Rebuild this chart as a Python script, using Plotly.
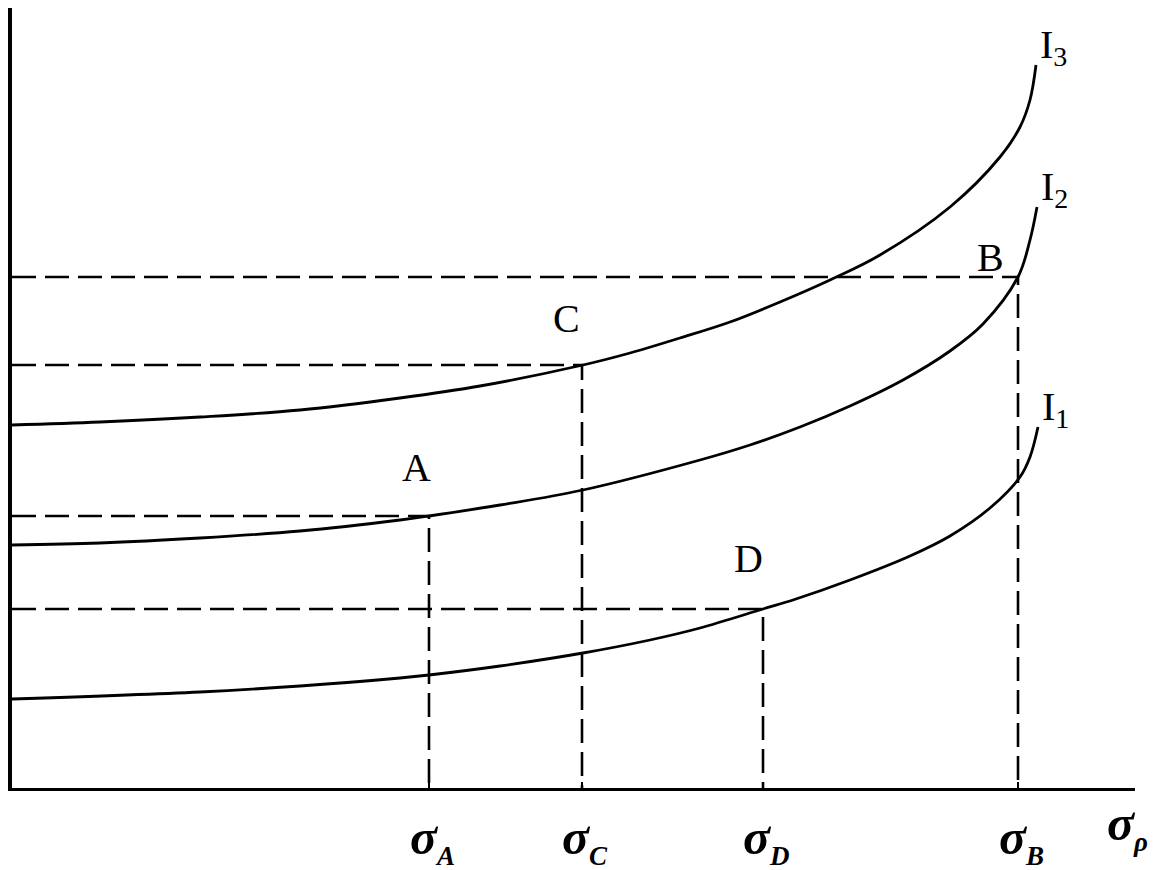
import plotly.graph_objects as go

# ---- data (x = sigma_p, y = expected return, arbitrary units) ----
i3_x = [0, 88, 188, 288, 388, 468, 571, 618, 668, 718, 768, 818, 868, 938, 988, 1008, 1018, 1024]
i3_y = [363, 366, 371, 378, 390, 402, 423, 435, 450, 466, 486, 508, 533, 581, 631, 661, 688, 723]

i2_x = [0, 88, 188, 288, 388, 417, 488, 571, 688, 738, 788, 838, 891, 938, 971, 1006, 1018, 1025]
i2_y = [243, 245, 250, 257, 268, 272, 283, 298, 328, 343, 361, 382, 408, 437, 464, 511, 548, 581]

i1_x = [0, 188, 288, 388, 417, 488, 571, 638, 688, 751, 781, 838, 898, 938, 978, 1008, 1018, 1026]
i1_y = [89, 96, 102, 110, 113, 122, 135, 148, 160, 179, 188, 208, 232, 252, 280, 311, 331, 361]

point_names = ["A", "B", "C", "D"]
point_x = [417, 1006, 570, 751]
point_y = [272, 511, 423, 179]

sigma_labels = ["A", "B", "C", "D"]
curve_names = ["3", "2", "1"]

# ---- figure ----
fig = go.Figure()
black = "black"
serif = "Liberation Serif, Times New Roman, serif"

# dashed guide lines for each point
for px, py in zip(point_x, point_y):
    fig.add_trace(go.Scatter(x=[0, px, px], y=[py, py, 0], mode="lines",
                             line=dict(color=black, width=2.6, dash="24px,9px"),
                             hoverinfo="skip", showlegend=False))

# indifference curves
for xs, ys in [(i3_x, i3_y), (i2_x, i2_y), (i1_x, i1_y)]:
    fig.add_trace(go.Scatter(x=xs, y=ys, mode="lines",
                             line=dict(color=black, width=2.8, shape="spline", smoothing=1.0),
                             hoverinfo="skip", showlegend=False))

Y_SPAN = 780.0  # y-axis range (data units) == plot height in px

annotations = []
# point labels (A, B, C, D)
label_offsets = {"A": (-13, 49), "B": (-28, 20), "C": (-16, 47), "D": (-15, 51)}
for name, px, py in zip(point_names, point_x, point_y):
    dx, dy = label_offsets[name]
    annotations.append(dict(x=px + dx, y=py + dy, text=name, showarrow=False,
                            xanchor="center", yanchor="middle",
                            font=dict(family=serif, size=40, color=black)))

# curve labels I1, I2, I3 (at curve ends)
for name, xs, ys in zip(curve_names, [i3_x, i2_x, i1_x], [i3_y, i2_y, i1_y]):
    annotations.append(dict(x=xs[-1] + 2, y=ys[-1] + 18,
                            text="I<sub><span style='font-size:28px'>" + name + "</span></sub>",
                            showarrow=False, xanchor="left", yanchor="middle",
                            font=dict(family=serif, size=40, color=black)))

# sigma labels under the x axis
for name, px in zip(sigma_labels, point_x):
    annotations.append(dict(x=px + 3, xref="x", y=-52 / Y_SPAN, yref="paper",
                            text="<b><i>σ</i></b><sub><b><i><span style='font-size:27px'>"
                                 + name + "</span></i></b></sub>",
                            showarrow=False, xanchor="center", yanchor="middle",
                            font=dict(family=serif, size=50, color=black)))

# axis title sigma_p
annotations.append(dict(x=1093, xref="x", y=-38 / Y_SPAN, yref="paper",
                        text="<b><i>σ</i></b><sub><b><i><span style='font-size:27px'>ρ</span></i></b></sub>",
                        showarrow=False, xanchor="left", yanchor="middle",
                        font=dict(family=serif, size=50, color=black)))

fig.update_layout(
    width=1148, height=862,
    margin=dict(l=4, r=21, t=0, b=82),
    paper_bgcolor="white", plot_bgcolor="white",
    showlegend=False,
    annotations=annotations,
    xaxis=dict(range=[0, 1123], showgrid=False, zeroline=False,
               showline=True, linecolor=black, linewidth=2.5,
               tickmode="array", tickvals=point_x, ticks="inside", ticklen=6,
               tickwidth=2, tickcolor=black, showticklabels=False, fixedrange=True),
    yaxis=dict(range=[0, Y_SPAN], showgrid=False, zeroline=False,
               showline=True, linecolor=black, linewidth=3.5,
               tickmode="array", tickvals=[i3_y[0], i2_y[0], i1_y[0]] + point_y,
               ticks="outside", ticklen=5, tickwidth=2, tickcolor=black,
               showticklabels=False, fixedrange=True),
)

fig.write_html("out.html")
